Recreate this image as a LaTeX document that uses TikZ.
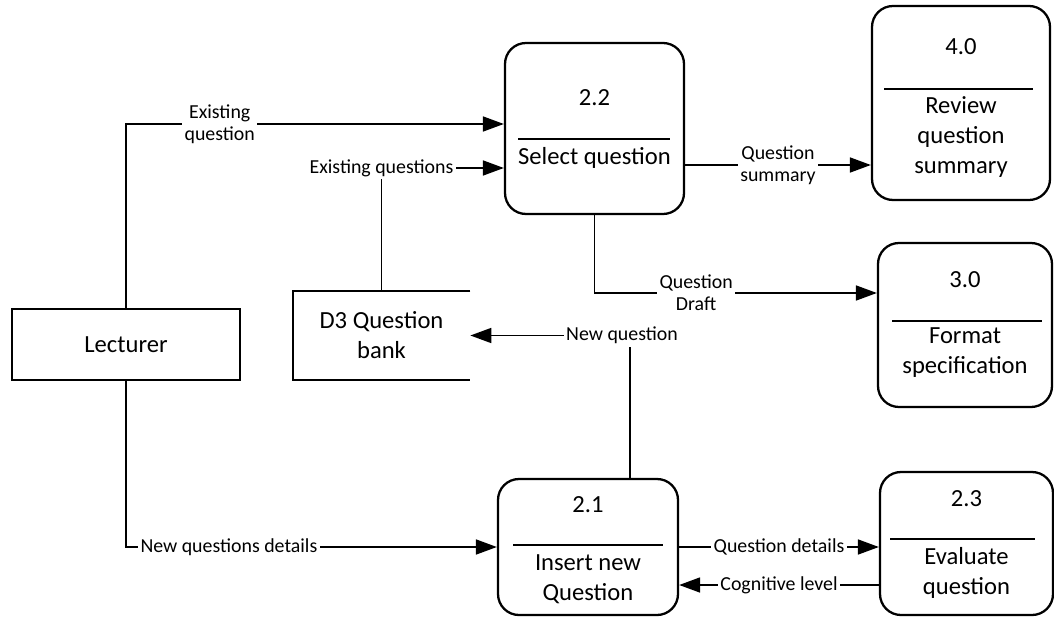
\documentclass[tikz,border=0pt]{standalone}
\usepackage{fontspec}
\setmainfont{Carlito}
\usetikzlibrary{arrows.meta,positioning,calc}
\newcommand{\boxfont}{\fontsize{14}{17}\selectfont}
\newcommand{\flowfont}{\fontsize{11.3}{12.3}\selectfont}
\tikzset{
  procbox/.style={
    rectangle, draw=black, line width=1.3pt, rounded corners=0.42cm,
    inner sep=0pt
  },
  entitybox/.style={
    rectangle, draw=black, line width=1.3pt,
    font=\boxfont, align=center, inner sep=0pt
  },
  storebox/.style={
    rectangle, font=\boxfont, align=center, inner sep=0pt
  },
  storeline/.style={line width=1.3pt},
  boxtext/.style={font=\boxfont, align=center, inner sep=1pt},
  divider/.style={line width=1.2pt},
  flow/.style={
    -{Triangle[length=0.42cm,width=0.3cm]}, line width=1pt
  },
  flowlabel/.style={
    font=\flowfont, align=center, fill=white, inner sep=1.5pt
  },
}

\begin{document}
\begin{tikzpicture}
  \useasboundingbox (0,0) rectangle (21.08,12.32);
  % External entity and data store
  \node[entitybox, minimum width=4.56cm, minimum height=1.42cm] (lect) at (2.52,5.43) {Lecturer};
  \node[storebox, minimum width=3.54cm, minimum height=1.78cm] (d3) at (7.63,5.61) {D3 Question\\bank};
  \draw[storeline] (d3.north east) -- (d3.north west) -- (d3.south west) -- (d3.south east);
  % 2.2 Select question
  \node[procbox, minimum width=3.58cm, minimum height=3.42cm] (sel) at (11.89,9.75) {};
  \node[boxtext] (sel-num) at (11.89,10.36) {2.2};
  \draw[divider] (10.36,9.54) -- (13.40,9.54);
  \node[boxtext] (sel-name) at (11.89,9.16) {Select question};
  % 4.0 Review question summary
  \node[procbox, minimum width=3.56cm, minimum height=3.88cm] (rev) at (19.22,10.26) {};
  \node[boxtext] (rev-num) at (19.22,11.38) {4.0};
  \draw[divider] (17.68,10.54) -- (20.66,10.54);
  \node[boxtext] (rev-name) at (19.22,9.58) {Review\\question\\summary};
  % 3.0 Format specification
  \node[procbox, minimum width=3.48cm, minimum height=3.28cm] (fmt) at (19.30,5.82) {};
  \node[boxtext] (fmt-num) at (19.30,6.72) {3.0};
  \draw[divider] (17.84,5.90) -- (20.84,5.90);
  \node[boxtext] (fmt-name) at (19.30,5.26) {Format\\specification};
  % 2.1 Insert new Question
  \node[procbox, minimum width=3.60cm, minimum height=2.72cm] (ins) at (11.76,1.38) {};
  \node[boxtext] (ins-num) at (11.76,2.22) {2.1};
  \draw[divider] (10.26,1.42) -- (13.26,1.42);
  \node[boxtext] (ins-name) at (11.76,0.74) {Insert new\\Question};
  % 2.3 Evaluate question
  \node[procbox, minimum width=3.46cm, minimum height=2.86cm] (eval) at (19.33,1.45) {};
  \node[boxtext] (eval-num) at (19.33,2.34) {2.3};
  \draw[divider] (17.80,1.54) -- (20.70,1.54);
  \node[boxtext] (eval-name) at (19.33,0.87) {Evaluate\\question};
  % Data flows
  \draw[flow] (lect.north) |- node[flowlabel, pos=0.624] {Existing\\question} ([yshift=0.09cm]sel.west);
  \draw[flow] (d3.north) |- node[flowlabel, pos=0.5] {Existing questions} ([yshift=-0.79cm]sel.west);
  \draw[flow] ([yshift=-0.73cm]sel.east) -- node[flowlabel] {Question\\summary} ([yshift=-0.73cm]sel.east -| rev.west);
  \draw[flow] (sel.south) |- node[flowlabel, pos=0.68] {Question\\Draft} ([yshift=0.64cm]fmt.west);
  \draw[flow] ([xshift=0.84cm]ins.north) |- node[flowlabel, pos=0.5, xshift=-0.16cm] {New question} (d3.east);
  \draw[flow] (lect.south) |- node[flowlabel, pos=0.5, anchor=west, xshift=0.22cm] {New questions details} (ins.west);
  \draw[flow] (ins.east) -- node[flowlabel] {Question details} (ins.east -| eval.west);
  \draw[flow] ([yshift=-0.83cm]eval.west) -- node[flowlabel] {Cognitive level} ([yshift=-0.83cm]eval.west -| ins.east);
\end{tikzpicture}
\end{document}
